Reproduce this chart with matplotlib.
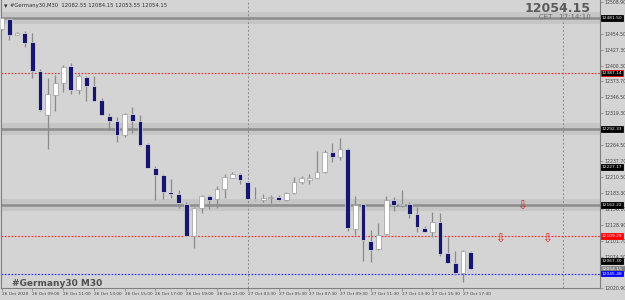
import matplotlib
matplotlib.use('Agg')
import matplotlib.pyplot as plt
import numpy as np

# Germany30 M30 bars
opens = [12462.9, 12479.9, 12453.2, 12455.6, 12440.8, 12391.5, 12316.2, 12350.2, 12370.6, 12398.8,
         12358.7, 12381.3, 12366.0, 12341.2, 12314.0, 12306.2, 12281.3, 12316.9, 12305.5, 12266.0,
         12226.4, 12213.9, 12184.0, 12180.6, 12164.1, 12110.3, 12156.8, 12177.7, 12172.1, 12189.6,
         12209.4, 12215.1, 12202.0, 12172.6, 12171.4, 12174.8, 12175.7, 12170.4, 12182.8, 12202.0,
         12204.9, 12209.4, 12219.6, 12253.6, 12244.4, 12258.7, 12121.5, 12163.5, 12100.5, 12086.9,
         12112.4, 12170.9, 12164.1, 12164.1, 12147.1, 12123.8, 12117.0, 12134.1, 12080.4, 12063.9,
         12046.4, 12082.55]
highs = [12483.3, 12483.8, 12457.8, 12459.0, 12456.6, 12394.4, 12379.1, 12384.7, 12401.7, 12404.6,
         12385.9, 12382.5, 12381.8, 12345.3, 12318.6, 12313.0, 12319.8, 12330.0, 12315.2, 12267.7,
         12229.1, 12215.1, 12206.6, 12187.9, 12168.0, 12158.5, 12179.9, 12179.4, 12194.2, 12215.1,
         12219.6, 12216.7, 12203.7, 12192.5, 12181.1, 12179.4, 12180.2, 12184.0, 12211.1, 12212.2,
         12215.1, 12254.6, 12256.3, 12268.9, 12277.3, 12260.0, 12177.2, 12164.9, 12120.3, 12131.1,
         12178.2, 12175.5, 12187.9, 12167.0, 12159.6, 12125.9, 12150.0, 12148.8, 12107.6, 12084.5,
         12084.9, 12084.15]
lows = [12461.2, 12444.2, 12452.7, 12432.8, 12379.1, 12323.5, 12257.2, 12322.3, 12355.8, 12352.6,
        12351.4, 12339.5, 12339.5, 12315.2, 12290.3, 12269.9, 12279.1, 12285.9, 12263.1, 12225.2,
        12170.4, 12172.6, 12173.8, 12156.8, 12109.8, 12089.9, 12148.8, 12155.6, 12157.3, 12174.3,
        12209.1, 12198.6, 12172.1, 12169.7, 12168.0, 12165.8, 12169.8, 12169.8, 12181.1, 12198.1,
        12198.1, 12207.9, 12217.9, 12235.9, 12239.3, 12118.6, 12111.5, 12067.6, 12064.9, 12086.5,
        12111.5, 12152.8, 12159.6, 12139.8, 12116.0, 12116.0, 12107.6, 12075.3, 12063.9, 12042.3,
        12031.6, 12053.55]
closes = [12481.6, 12453.2, 12456.6, 12438.6, 12391.5, 12324.0, 12351.2, 12370.6, 12397.8, 12358.7,
          12382.5, 12364.8, 12339.5, 12315.2, 12305.5, 12282.5, 12316.9, 12305.5, 12265.5, 12226.4,
          12213.9, 12185.0, 12180.6, 12165.3, 12110.3, 12156.8, 12177.2, 12170.4, 12189.6, 12211.1,
          12216.2, 12204.9, 12172.6, 12171.8, 12174.3, 12175.1, 12170.4, 12182.8, 12202.0, 12207.7,
          12208.8, 12219.6, 12252.9, 12244.4, 12258.7, 12122.6, 12162.3, 12102.7, 12086.2, 12111.7,
          12171.4, 12162.3, 12163.2, 12147.1, 12124.5, 12117.0, 12133.0, 12079.2, 12064.4, 12045.7,
          12083.8, 12054.15]

time_labels = ['26 Oct 2020', '26 Oct 09:00', '26 Oct 11:00', '26 Oct 13:00', '26 Oct 15:00',
               '26 Oct 17:00', '26 Oct 19:00', '26 Oct 21:00', '27 Oct 03:30', '27 Oct 05:30',
               '27 Oct 07:30', '27 Oct 09:30', '27 Oct 11:30', '27 Oct 13:30', '27 Oct 15:30',
               '27 Oct 17:30']
price_ticks = ['12020.90', '12047.30', '12074.50', '12101.70', '12128.90', '12156.10', '12183.30',
               '12210.50', '12237.70', '12264.50', '12291.70', '12319.30', '12346.50', '12373.70',
               '12400.30', '12427.30', '12454.50', '12481.50', '12508.90']

# support / resistance zones and dotted levels
zone_levels = [12481.50, 12292.33, 12162.22]
dotted_levels = [(12387.14, '#E03030'), (12109.29, '#FF2020'), (12045.48, '#2020FF')]
# price tags on the right axis: (price, text, face, edge, text colour)
price_tags = [(12481.50, '12481.50', 'black', 'black', 'white'),
              (12387.14, '12387.14', 'black', 'red', 'white'),
              (12292.33, '12292.33', 'black', 'black', 'white'),
              (12227.17, '12227.17', 'black', 'black', 'white'),
              (12162.22, '12162.22', 'black', 'black', 'white'),
              (12109.29, '12109.29', 'red', 'red', 'white'),
              (12067.30, '12067.30', 'black', 'black', 'white'),
              (12054.15, '12054.15', '#808080', '#808080', 'white'),
              (12045.48, '12045.48', '#0000FF', '#0000FF', 'white')]
# sell arrows (bar index, price)
arrow_x = [67.7, 64.8, 70.9]
arrow_y = [12160.3, 12104.2, 12104.2]
separators = [32, 73]

bg = '#D4D4D4'
bear = '#16166E'

fig = plt.figure(figsize=(6.25, 3), dpi=100)
fig.patch.set_facecolor(bg)
ax = fig.add_axes([1 / 625, 12 / 300, 599 / 625, 288 / 300])
ax.set_facecolor(bg)

for lvl in zone_levels:
    ax.axhspan(lvl - 10.5, lvl + 10.5, color='#C6C6C6', lw=0, zorder=0)
    ax.axhline(lvl, color='#8C8C8C', lw=1.8, zorder=1)
for lvl, col in dotted_levels:
    ax.axhline(lvl, color=col, lw=0.8, ls=(0, (1.5, 1.5)), zorder=1)
for sx in separators:
    ax.axvline(sx, color='#8A8A8A', lw=0.7, ls=(0, (2, 2)), zorder=1)

x = np.arange(len(opens))
o = np.array(opens)
c = np.array(closes)
up = c >= o
ax.vlines(x, lows, highs, color='#8A8A8A', lw=0.9, zorder=2)
bottoms = np.minimum(o, c)
heights = np.maximum(np.abs(c - o), 1.0)
ax.bar(x[up], heights[up], bottom=bottoms[up], width=0.62, color='white',
       edgecolor='#9A9A9A', lw=0.5, zorder=3)
ax.bar(x[~up], heights[~up], bottom=bottoms[~up], width=0.62, color=bear,
       edgecolor='#E6E6E6', lw=0.5, zorder=3)

for ax_, ay in zip(arrow_x, arrow_y):
    ax.text(ax_, ay, '\u21e9', color='#E02020', fontsize=8.5, ha='center', va='center', zorder=4)

ax.set_xlim(-0.08, 77.8)
ax.set_ylim(12023.2, 12512.2)

# tick labels hidden behind a price tag are left out, as in the terminal
tag_prices = [p for p, *_ in price_tags]
shown = [t for t in price_ticks if min(abs(float(t) - p) for p in tag_prices) > 5]
ax.yaxis.tick_right()
ax.set_yticks([float(t) for t in shown])
ax.set_yticklabels(shown)
ax.set_xticks(range(0, 61, 4))
ax.set_xticklabels(time_labels, ha='left')
ax.tick_params(axis='y', labelsize=3.3, length=2, width=0.5, pad=1, colors='#808080',
               labelcolor='#404040')
ax.tick_params(axis='x', labelsize=3.1, length=2, width=0.5, pad=1, colors='#808080',
               labelcolor='#404040')
for side in ['left', 'right', 'bottom']:
    ax.spines[side].set_color('#808080')
    ax.spines[side].set_linewidth(0.8)
ax.spines['top'].set_visible(False)

trans = ax.get_yaxis_transform()
for price, txt, face, edge, tc in price_tags:
    ax.text(1.003, price, txt, transform=trans, fontsize=3.2, color=tc, ha='left', va='center',
            bbox=dict(boxstyle='square,pad=0.2', fc=face, ec=edge, lw=0.6), zorder=6, clip_on=False)

# terminal header / overlay texts
fig.text(4 / 625, 1 - 6 / 300, '\u25be', fontsize=5, color='#303030', va='center')
fig.text(10 / 625, 1 - 6 / 300, '#Germany30,M30  12082.55 12084.15 12053.55 12054.15',
         fontsize=3.8, color='#303030', va='center')
fig.text(591 / 625, 1 - 8 / 300, '12054.15', fontsize=9, fontweight='bold', color='#5A5A5A',
         ha='right', va='center')
fig.text(591 / 625, 1 - 17 / 300, 'CET   17:14:10', fontsize=5, color='#6A6A6A',
         ha='right', va='center')
fig.text(12 / 625, 1 - 284 / 300, '#Germany30 M30', fontsize=6.5, fontweight='bold',
         color='#505050', va='center')

fig.savefig('out.png', dpi=100, facecolor=bg)
